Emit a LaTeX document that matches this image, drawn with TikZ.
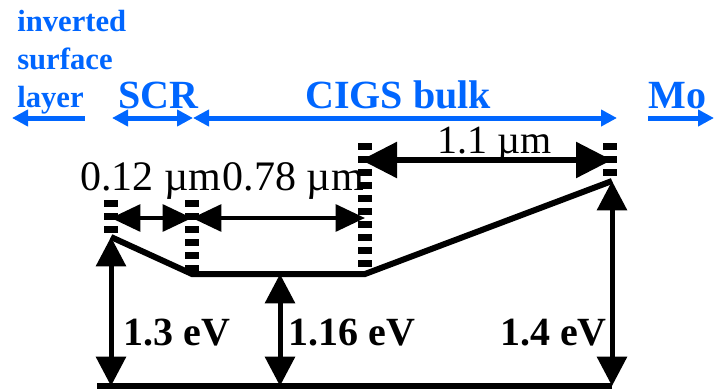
\documentclass[tikz,border=0pt]{standalone}
\usepackage{fontspec}
\setmainfont{Liberation Serif}[BoldFont={Liberation Serif Bold}]
\usetikzlibrary{arrows.meta}
\definecolor{lBlue}{HTML}{0066FF}

\begin{document}
\begin{tikzpicture}[
  x=0.75pt, y=-0.75pt,
  every node/.style={inner sep=0pt},
  region/.style={lBlue, line width=3.75pt,
                 arrows={-Triangle[length=12pt, width=12pt]}},
  layer/.style={lBlue, font=\fontsize{30}{36}\selectfont\bfseries},
  marker/.style={line width=10.5pt, dash pattern=on 5.25pt off 4.5pt},
  dim/.style={line width=3pt,
              arrows={Triangle[length=22pt, width=20pt]-Triangle[length=22pt, width=20pt]}},
  bigdim/.style={line width=5pt,
              arrows={Triangle[length=27pt, width=26pt]-Triangle[length=27pt, width=26pt]}},
  gap/.style={line width=3.75pt,
              arrows={Triangle[length=22pt, width=22pt]-Triangle[length=22pt, width=22pt]}},
  band/.style={line width=4.5pt, line join=miter},
  lbl/.style={font=\fontsize{31.5}{36}\selectfont},
  elbl/.style={font=\fontsize{30}{36}\selectfont\bfseries},
]
  \useasboundingbox (0,0) rectangle (715,390);

  % Region labels
  \node[lBlue, font=\fontsize{23}{28.5}\selectfont\bfseries, align=left,
        anchor=north west] (lblInv) at (17,10) {inverted\\surface\\layer};
  \node[layer, anchor=base west] (lblSCR) at (118,108) {SCR};
  \node[layer, anchor=base west] (lblCIGS) at (305,108) {CIGS bulk};
  \node[layer, anchor=base west] (lblMo) at (648,108) {Mo};

  % Region arrows
  \coordinate (inv0) at (12,118);
  \coordinate (inv1) at (85,118);
  \coordinate (scr0) at (112,118);
  \coordinate (scr1) at (193,118);
  \coordinate (cigs1) at (617,118);
  \coordinate (mo0) at (648,118);
  \coordinate (mo1) at (714,118);
  \draw[region] (inv1) -- (inv0);
  \draw[region, arrows={Triangle[length=12pt, width=12pt]-Triangle[length=12pt, width=12pt]}] (scr0) -- (scr1);
  \draw[region, arrows={Triangle[length=12pt, width=12pt]-Triangle[length=12pt, width=12pt]}] (scr1) -- (cigs1);
  \draw[region] (mo0) -- (mo1);

  % Band profile
  \coordinate (surf) at (111,237);
  \coordinate (scrEnd) at (192,274);
  \coordinate (flat) at (280,274);
  \coordinate (bulkEnd) at (365,274);
  \coordinate (back) at (612,181);
  \draw[band] (surf) -- (scrEnd) -- (bulkEnd) -- (back);

  % Reference level
  \coordinate (ref0) at (97,386);
  \coordinate (refSurf) at (111,386);
  \coordinate (refFlat) at (280,386);
  \coordinate (refBack) at (612,386);
  \draw[band] (ref0) -- (refBack);

  % Boundary markers
  \foreach \x/\ya/\yb in {111/200/235, 192/200/274, 365/143/274, 610/143/178} {
    \draw[marker] (\x,\ya) -- (\x,\yb);
  }

  % Widths
  \coordinate (w0) at (111,218);
  \coordinate (w1) at (192,218);
  \coordinate (w2) at (365,218);
  \coordinate (w3) at (361,160);
  \coordinate (w4) at (612,160);
  \draw[dim] (w0) -- (w1);
  \draw[dim] (w1) -- (w2);
  \draw[bigdim] (w3) -- (w4);
  \node[lbl, anchor=base west] (lblW1) at (80,190) {0.12 µm};
  \node[lbl, anchor=base east] (lblW2) at (364,190) {0.78 µm};
  \node[lbl, font=\fontsize{30}{36}\selectfont, anchor=base] (lblW3) at (495,153) {1.1 µm};

  % Band gaps
  \draw[gap] (surf) -- (refSurf);
  \draw[gap] (flat) -- (refFlat);
  \draw[gap] (back) -- (refBack);
  \node[elbl, anchor=base west] (lblE1) at (123,345) {1.3 eV};
  \node[elbl, anchor=base west] (lblE2) at (288,345) {1.16 eV};
  \node[elbl, anchor=base east] (lblE3) at (607,345) {1.4 eV};
\end{tikzpicture}
\end{document}
